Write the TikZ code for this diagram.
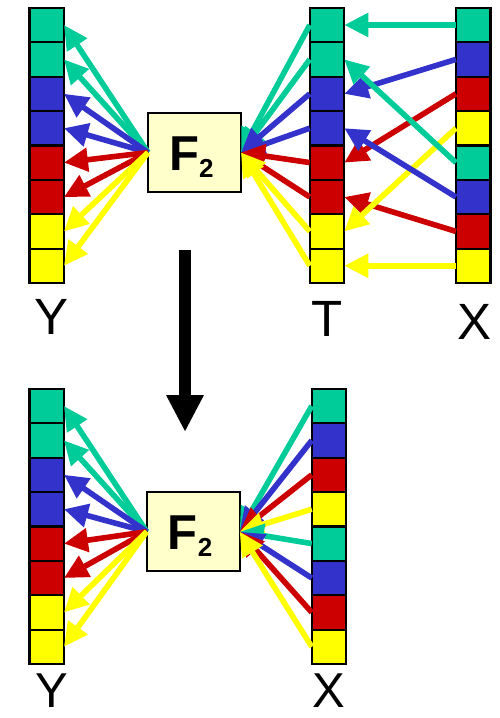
\documentclass[tikz,border=0pt]{standalone}
\usepackage{fontspec}
\setmainfont{Liberation Sans}
\usetikzlibrary{arrows.meta}
\definecolor{cgreen}{RGB}{0,204,153}
\definecolor{cblue}{RGB}{51,51,204}
\definecolor{cred}{RGB}{204,0,0}
\definecolor{cyellow}{RGB}{255,255,0}
\definecolor{boxfill}{RGB}{255,255,204}
\begin{document}
\begin{tikzpicture}[x=1pt,y=-1pt,
  cell/.style={draw=black, line width=2.2pt, minimum width=34.5pt, minimum height=34.4pt, inner sep=0pt, outer sep=0pt},
  fbox/.style={draw=black, line width=2.2pt, fill=boxfill, minimum width=93pt, minimum height=79pt, inner sep=0pt, outer sep=0pt},
  flabel/.style={inner sep=0pt, anchor=base west, font=\bfseries\fontsize{49}{49}\selectfont},
  lab/.style={inner sep=0pt, font=\fontsize{51}{51}\selectfont},
  lowlab/.style={inner sep=0pt, anchor=base, font=\fontsize{49}{49}\selectfont},
  fan/.style={line width=5.6pt, -{Triangle[length=24pt,width=23pt]}},
  feed/.style={line width=5.6pt, -{Triangle[length=24pt,width=23pt]}},
  bigarrow/.style={line width=12.4pt, -{Triangle[length=37pt,width=35pt]}}]
\useasboundingbox (0,0) rectangle (499,718);

% upper stage: Y <- F2 <- T <- X
\foreach \c [count=\i] in {cgreen,cgreen,cblue,cblue,cred,cred,cyellow,cyellow} {
  \node[cell, fill=\c] (ya\i) at (46.7, {25+34.4*(\i-1)}) {};
  \node[cell, fill=\c] (ta\i) at (327, {25+34.4*(\i-1)}) {};
}
\foreach \c [count=\i] in {cgreen,cblue,cred,cyellow,cgreen,cblue,cred,cyellow} {
  \node[cell, fill=\c] (xa\i) at (473.2, {25+34.4*(\i-1)}) {};
}
\node[fbox] (fa) at (194.5,152.5) {};
\node[flabel] (fatext) at (169,170) {F\raisebox{-7.7pt}{\fontsize{26}{26}\selectfont 2}};

\foreach \c [count=\i] in {cgreen,cgreen,cblue,cblue,cred,cred,cyellow,cyellow} {
  \draw[fan, color=\c] (fa.west) -- (ya\i.east);
  \draw[fan, color=\c] (ta\i.west) -- (fa.east);
}
% X cells feed the T cells of their own colour
\foreach \s/\t/\c in {8/8/cyellow,7/6/cred,4/7/cyellow,3/5/cred,6/4/cblue,2/3/cblue,5/2/cgreen,1/1/cgreen} {
  \draw[feed, color=\c] (xa\s.west) -- (ta\t.east);
}

\node[lab] (ylaba) at (52,317) {Y};
\node[lab] (tlaba) at (327,319) {T};
\node[lab] (xlaba) at (474.5,322) {X};

% step between the stages
\coordinate (downstart) at (185,250);
\coordinate (downend) at (185,432);
\draw[bigarrow] (downstart) -- (downend);

% lower stage: Y <- F2 <- X
\foreach \c [count=\i] in {cgreen,cgreen,cblue,cblue,cred,cred,cyellow,cyellow} {
  \node[cell, fill=\c] (yb\i) at (46.7, {406+34.4*(\i-1)}) {};
}
\foreach \c [count=\i] in {cgreen,cblue,cred,cyellow,cgreen,cblue,cred,cyellow} {
  \node[cell, fill=\c] (xb\i) at (329, {406+34.4*(\i-1)}) {};
}
\node[fbox] (fb) at (193.2,531.7) {};
\node[flabel] (fbtext) at (167.7,549.2) {F\raisebox{-7.7pt}{\fontsize{26}{26}\selectfont 2}};

\foreach \c [count=\i] in {cgreen,cgreen,cblue,cblue,cred,cred,cyellow,cyellow} {
  \draw[fan, color=\c] (fb.west) -- (yb\i.east);
}
\foreach \c [count=\i] in {cgreen,cblue,cred,cyellow,cgreen,cblue,cred,cyellow} {
  \draw[fan, color=\c] (xb\i.west) -- (fb.east);
}

\node[lowlab] (ylabb) at (52,707) {Y};
\node[lowlab] (xlabb) at (329,707) {X};
\end{tikzpicture}
\end{document}
